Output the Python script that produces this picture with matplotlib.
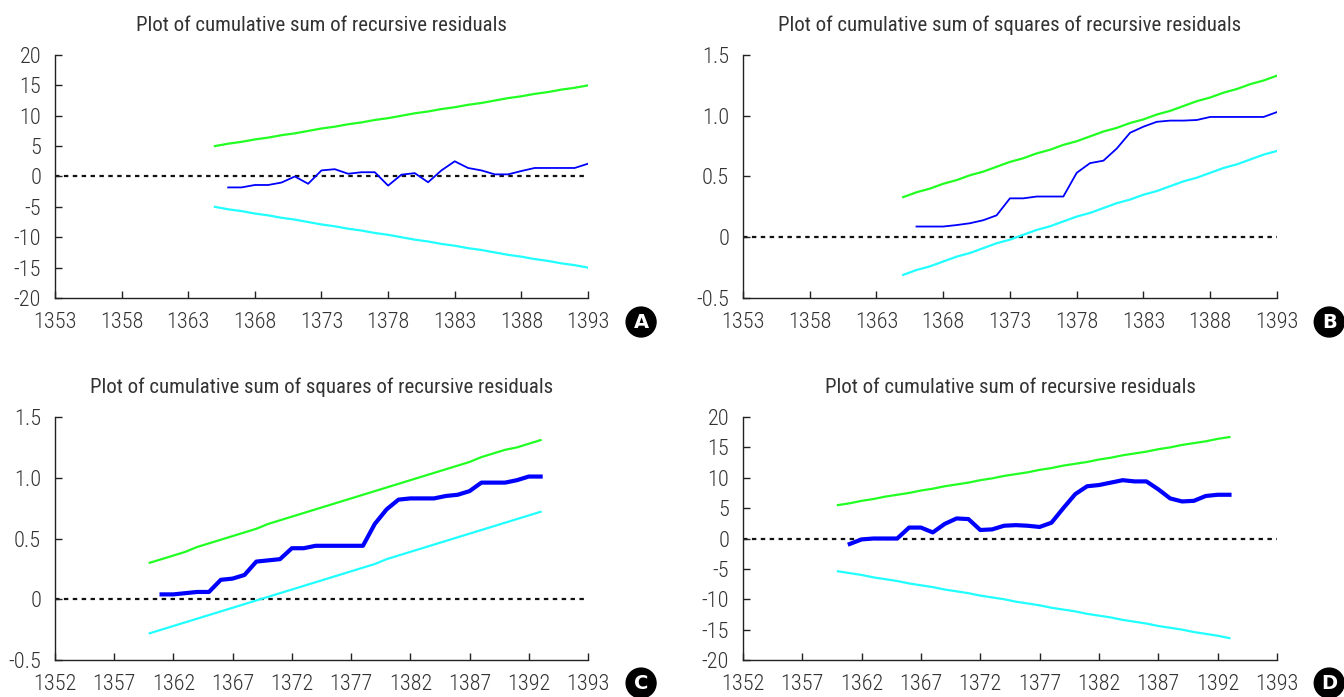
import matplotlib
matplotlib.use('Agg')
import matplotlib.pyplot as plt

plt.rcParams['font.family'] = ['Roboto Condensed', 'DejaVu Sans']
plt.rcParams['font.weight'] = 'light'

GREEN = '#22ff22'
CYAN = '#22ffff'
BLUE = '#0000ff'
TXT = '#333333'

# panel A: cusum, 1365-1393
years_a = list(range(1365, 1394))
upper_a = [5.0, 5.4, 5.7, 6.1, 6.4, 6.8, 7.1, 7.5, 7.9, 8.2, 8.6, 8.9, 9.3, 9.6, 10.0,
           10.4, 10.7, 11.1, 11.4, 11.8, 12.1, 12.5, 12.9, 13.2, 13.6, 13.9, 14.3, 14.6, 15.0]
lower_a = [-v for v in upper_a]
cusum_years_a = list(range(1366, 1394))
cusum_a = [-1.8, -1.8, -1.4, -1.4, -1.0, 0.0, -1.2, 1.0, 1.2, 0.45, 0.7, 0.7, -1.5, 0.3,
           0.55, -0.95, 1.0, 2.5, 1.4, 1.0, 0.35, 0.35, 0.9, 1.4, 1.4, 1.4, 1.4, 2.1]

# panel B: cusum of squares, 1365-1393
years_b = list(range(1365, 1394))
upper_b = [0.33, 0.37, 0.40, 0.44, 0.47, 0.51, 0.54, 0.58, 0.62, 0.65, 0.69, 0.72, 0.76,
           0.79, 0.83, 0.87, 0.90, 0.94, 0.97, 1.01, 1.04, 1.08, 1.12, 1.15, 1.19, 1.22,
           1.26, 1.29, 1.33]
lower_b = [-0.31, -0.27, -0.24, -0.20, -0.16, -0.13, -0.09, -0.05, -0.02, 0.02, 0.06,
           0.09, 0.13, 0.17, 0.20, 0.24, 0.28, 0.31, 0.35, 0.38, 0.42, 0.46, 0.49, 0.53,
           0.57, 0.60, 0.64, 0.68, 0.71]
cusumsq_years_b = list(range(1366, 1394))
cusumsq_b = [0.088, 0.088, 0.088, 0.10, 0.115, 0.14, 0.18, 0.32, 0.32, 0.335, 0.335, 0.335,
             0.53, 0.61, 0.63, 0.73, 0.86, 0.91, 0.95, 0.96, 0.96, 0.965, 0.99, 0.99, 0.99,
             0.99, 0.99, 1.03]

# panel C: cusum of squares, 1360-1393
years_c = list(range(1360, 1394))
upper_c = [0.30, 0.33, 0.36, 0.39, 0.43, 0.46, 0.49, 0.52, 0.55, 0.58, 0.62, 0.65, 0.68,
           0.71, 0.74, 0.77, 0.80, 0.83, 0.86, 0.89, 0.92, 0.95, 0.98, 1.01, 1.04, 1.07,
           1.10, 1.13, 1.17, 1.20, 1.23, 1.25, 1.28, 1.31]
lower_c = [-0.28, -0.25, -0.22, -0.19, -0.16, -0.13, -0.10, -0.07, -0.04, -0.01, 0.02,
           0.05, 0.08, 0.11, 0.14, 0.17, 0.20, 0.23, 0.26, 0.29, 0.33, 0.36, 0.39, 0.42,
           0.45, 0.48, 0.51, 0.54, 0.57, 0.60, 0.63, 0.66, 0.69, 0.72]
cusumsq_years_c = list(range(1361, 1394))
cusumsq_c = [0.04, 0.04, 0.05, 0.06, 0.06, 0.16, 0.17, 0.20, 0.31, 0.32, 0.33, 0.42, 0.42,
             0.44, 0.44, 0.44, 0.44, 0.44, 0.62, 0.74, 0.82, 0.83, 0.83, 0.83, 0.85, 0.86,
             0.89, 0.96, 0.96, 0.96, 0.98, 1.01, 1.01]

# panel D: cusum, 1360-1393
years_d = list(range(1360, 1394))
upper_d = [5.5, 5.8, 6.2, 6.5, 6.9, 7.2, 7.5, 7.9, 8.2, 8.6, 8.9, 9.2, 9.6, 9.9, 10.3,
           10.6, 10.9, 11.3, 11.6, 12.0, 12.3, 12.6, 13.0, 13.3, 13.7, 14.0, 14.3, 14.7,
           15.0, 15.4, 15.7, 16.0, 16.4, 16.7]
lower_d = [-5.4, -5.7, -6.0, -6.4, -6.7, -7.0, -7.4, -7.7, -8.0, -8.4, -8.7, -9.0, -9.4,
           -9.7, -10.0, -10.4, -10.7, -11.0, -11.4, -11.7, -12.0, -12.4, -12.7, -13.0,
           -13.4, -13.7, -14.0, -14.4, -14.7, -15.0, -15.4, -15.7, -16.0, -16.4]
cusum_years_d = list(range(1361, 1394))
cusum_d = [-0.9, -0.15, 0.0, 0.0, 0.0, 1.8, 1.8, 1.0, 2.4, 3.3, 3.2, 1.4, 1.5, 2.1, 2.2,
           2.1, 1.9, 2.6, 5.0, 7.3, 8.6, 8.8, 9.2, 9.6, 9.4, 9.4, 8.1, 6.6, 6.1, 6.2, 7.0,
           7.2, 7.2]

title_cusum = 'Plot of cumulative sum of recursive residuals'
title_cusumsq = 'Plot of cumulative sum of squares of recursive residuals'

ticks_ab = list(range(1353, 1394, 5))
labels_ab = [str(t) for t in ticks_ab]
ticks_cd = list(range(1352, 1398, 5))
labels_cd = [str(t) for t in ticks_cd[:-1]] + ['1393']

yticks_cusum = [20, 15, 10, 5, 0, -5, -10, -15, -20]
ylabels_cusum = [str(t) for t in yticks_cusum]
yticks_sq = [1.5, 1.0, 0.5, 0, -0.5]
ylabels_sq = ['1.5', '1.0', '0.5', '0', '-0.5']


def style_axes(ax, title, xlim, xticks, xlabels, ylim, yticks, ylabels):
    ax.set_xlim(*xlim)
    ax.set_ylim(*ylim)
    ax.set_xticks(xticks)
    ax.set_xticklabels(xlabels)
    ax.set_yticks(yticks)
    ax.set_yticklabels(ylabels)
    for side in ['top', 'right']:
        ax.spines[side].set_visible(False)
    for side in ['left', 'bottom']:
        ax.spines[side].set_color('#222222')
        ax.spines[side].set_linewidth(1.0)
    ax.tick_params(axis='both', direction='in', length=5, width=1.0,
                   colors='#222222', labelcolor=TXT, labelsize=16)
    ax.tick_params(axis='x', pad=10)
    ax.tick_params(axis='y', pad=10)
    ax.set_title(title, fontsize=15, color=TXT, pad=17)
    ax.axhline(0, color='#111111', lw=1.6, ls=(0, (2.0, 2.0)), zorder=1)


def badge(fig, x, y, letter):
    fig.text(x, y, letter, ha='center', va='center', color='white', fontsize=14,
             fontweight='bold', family=['DejaVu Sans'],
             bbox=dict(boxstyle='circle,pad=0.28', fc='black', ec='black'))


fig = plt.figure(figsize=(13.44, 6.97), dpi=100)
ax_a = fig.add_axes([0.0409, 0.5725, 0.3966, 0.3486])
ax_b = fig.add_axes([0.5528, 0.5725, 0.3973, 0.3486])
ax_c = fig.add_axes([0.0409, 0.0531, 0.3966, 0.3486])
ax_d = fig.add_axes([0.5528, 0.0531, 0.3973, 0.3486])

ax_a.plot(years_a, upper_a, color=GREEN, lw=1.6)
ax_a.plot(years_a, lower_a, color=CYAN, lw=1.6)
ax_a.plot(cusum_years_a, cusum_a, color=BLUE, lw=1.3)
style_axes(ax_a, title_cusum, (1353, 1393), ticks_ab, labels_ab,
           (-20, 20), yticks_cusum, ylabels_cusum)

ax_b.plot(years_b, upper_b, color=GREEN, lw=1.6)
ax_b.plot(years_b, lower_b, color=CYAN, lw=1.6)
ax_b.plot(cusumsq_years_b, cusumsq_b, color=BLUE, lw=1.3)
style_axes(ax_b, title_cusumsq, (1353, 1393), ticks_ab, labels_ab,
           (-0.5, 1.5), yticks_sq, ylabels_sq)

ax_c.plot(years_c, upper_c, color=GREEN, lw=1.6)
ax_c.plot(years_c, lower_c, color=CYAN, lw=1.6)
ax_c.plot(cusumsq_years_c, cusumsq_c, color=BLUE, lw=3.0)
style_axes(ax_c, title_cusumsq, (1352, 1397), ticks_cd, labels_cd,
           (-0.5, 1.5), yticks_sq, ylabels_sq)

ax_d.plot(years_d, upper_d, color=GREEN, lw=1.6)
ax_d.plot(years_d, lower_d, color=CYAN, lw=1.6)
ax_d.plot(cusum_years_d, cusum_d, color=BLUE, lw=3.0)
style_axes(ax_d, title_cusum, (1352, 1397), ticks_cd, labels_cd,
           (-20, 20), yticks_cusum, ylabels_cusum)

badge(fig, 0.477, 0.538, 'A')
badge(fig, 0.989, 0.538, 'B')
badge(fig, 0.477, 0.020, 'C')
badge(fig, 0.989, 0.020, 'D')

fig.savefig('out.png', dpi=100)
